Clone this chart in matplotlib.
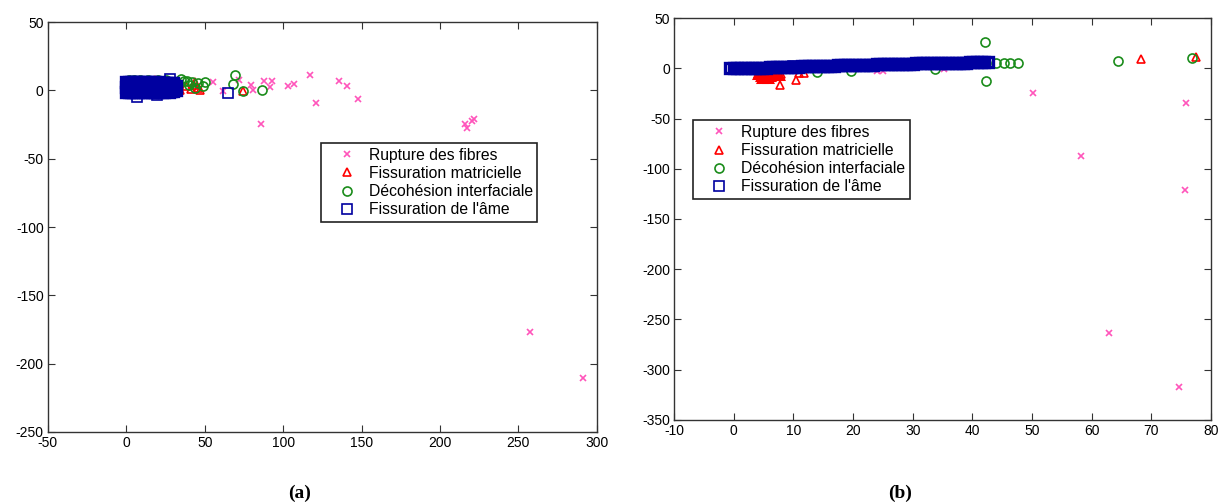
import matplotlib
matplotlib.use("Agg")
import matplotlib.pyplot as plt

# Données (a)
rupture_a_x = [10, 30, 55.3, 61.7, 72, 79.7, 81, 88, 93, 91.8, 103.3, 107, 117, 121, 135.8, 140.8, 148, 85.7,
               215.8, 217.3, 220.5, 222, 257.7, 291]
rupture_a_y = [5, 3, 6.4, -0.5, 8, 4.2, 0.7, 6.8, 6.8, 2.4, 3.1, 4.6, 11.2, -9.3, 6.8, 3.1, -6.1, -24.4,
               -24.9, -27.3, -22.5, -20.7, -177.2, -210.8]
matrice_a_x = [3, 12, 18, 22, 34, 38, 41, 43, 46, 47, 44, 74.4]
matrice_a_y = [7, 7, 7.5, 7, 0, 3, 1, 4, 2, 0, 6, -0.5]
decohesion_a_x = [2, 5, 9, 14, 20, 25, 35, 37, 38.7, 40, 42, 44, 46, 50.4, 49, 69, 68, 74.4, 86.5]
decohesion_a_y = [7.5, 8, 8, 7.5, 7.8, 7.5, 8.6, 7, 6.8, 4, 6, 2, 5.6, 6.4, 3.1, 11.2, 4.9, -0.5, 0.2]
# amas dense de l'âme (a)
amas_a_x = [0, 1.5, 3, 4.5, 6, 7.5, 9, 10.5, 12, 13.5, 15, 16.5, 18, 19.5, 21, 22.5, 24, 25.5, 27, 28.5, 30, 31.5,
            0, 1.5, 3, 4.5, 6, 7.5, 9, 10.5, 12, 13.5, 15, 16.5, 18, 19.5, 21, 22.5, 24, 25.5, 27, 28.5, 30, 31.5,
            0, 1.5, 3, 4.5, 6, 7.5, 9, 10.5, 12, 13.5, 15, 16.5, 18, 19.5, 21, 22.5, 24, 25.5, 27, 28.5, 30]
amas_a_y = [-1, -1, -1, -1, -1, -1, -0.5, -1, -1, -1, -0.5, -1, -1, -1, -0.5, -1, -1, -0.5, -1, -0.5, -0.5, 0,
            2.5, 2.5, 2.5, 2.5, 2.5, 2.5, 2.5, 2.5, 2.5, 2.5, 2.5, 2.5, 2.5, 2.5, 2.5, 2.5, 2.5, 3, 2.5, 3, 3, 3,
            6, 6.2, 6, 6, 6.2, 6, 6, 5.8, 6, 6, 5.8, 6, 6, 5.8, 6, 5.8, 5.5, 5.8, 5.5, 5.5, 5.5]
ame_a_x = [6.8, 19.6, 28, 64.6]
ame_a_y = [-4.6, -3.4, 8.6, -1.7]

# Données (b)
rupture_b_x = [24, 25, 35.2, 50.1, 75.8, 58.3, 75.6, 63.0, 74.7]
rupture_b_y = [-2.7, -2.7, -0.3, -24.9, -34.8, -87.3, -121, -264, -317.7]
amas_rouge_b_x = [4, 4.5, 5, 5.5, 6, 6.5, 7, 5, 6, 4.8, 5.8, 7.5, 4.2, 6.8]
amas_rouge_b_y = [-6, -8, -9, -9, -8, -7, -6, -6, -6, -10, -10, -7, -4, -4]
matrice_b_x = [7.8, 10.4, 7.9, 10.9, 11.7, 68.3, 77.5]
matrice_b_y = [-17, -11.7, -6, -4.3, -4.3, 9.7, 11.6]
decohesion_b_x = [14, 19.6, 33.8, 42.1, 42.3, 44, 45.3, 46.3, 47.6, 64.5, 76.9]
decohesion_b_y = [-3.7, -2.7, -0.3, 26.6, -12.6, 5, 5, 5, 5, 7.3, 10]
amas_b_x = [-0.6, 0.0, 0.6, 1.2, 1.8, 2.4, 3.0, 3.6, 4.2, 4.8, 5.4, 6.0, 6.6, 7.2, 7.8, 8.4, 9.0, 9.6,
            10.2, 10.8, 11.4, 12.0, 12.6, 13.2, 13.8, 14.4, 15.0, 15.6, 16.2, 16.8, 17.4, 18.0, 18.6,
            19.2, 19.8, 20.4, 21.0, 21.6, 22.2, 22.8, 23.4, 24.0, 24.6, 25.2, 25.8, 26.4, 27.0, 27.6,
            28.2, 28.8, 29.4, 30.0, 30.6, 31.2, 31.8, 32.4, 33.0, 33.6, 34.2, 34.8, 35.4, 36.0, 36.6,
            37.2, 37.8, 38.4, 39.0, 39.6, 40.2, 40.8, 41.4, 42.0, 42.6]
amas_b_y = [0.3, 0.3, 0.3, 0.3, 0.3, 0.5, 0.5, 0.3, 0.5, 0.5, 0.5, 1.5, 1.5, 1.5, 1.5, 1.5, 1.5, 1.8,
            1.8, 1.8, 2, 2, 2, 2, 2.2, 2.2, 2.2, 2.5, 2.5, 2.5, 3, 3, 3, 3, 3, 3.2, 3.2, 3.2, 3.5, 3.5,
            3.5, 4, 4, 4, 4, 4.2, 4.2, 4.2, 4.5, 4.5, 4.5, 4.5, 5, 5, 5, 5, 5, 5.2, 5.2, 5.2, 5.5, 5.5,
            5.5, 5.5, 5.8, 5.8, 5.8, 6, 6, 6, 6, 6, 6]
ame_b_x = [10, 20, 30]
ame_b_y = [2, 3.5, 4.5]

labels = ["Rupture des fibres", "Fissuration matricielle",
          "Décohésion interfaciale", "Fissuration de l'âme"]

plt.rcParams['font.family'] = ['Liberation Sans', 'DejaVu Sans']
plt.rcParams['axes.unicode_minus'] = False

ROSE = '#ff55bb'
ROUGE = '#ff0000'
VERT = '#1a8c1a'
BLEU = '#0000a0'


def tracer(ax, rx, ry, rmx, rmy, mx, my, dx, dy, abx, aby, bx, by):
    h1, = ax.plot(rx, ry, 'x', color=ROSE, ms=5, mew=1.2)
    ax.plot(rmx, rmy, '^', color=ROUGE, mfc='none', ms=6, mew=2.2)
    h2, = ax.plot(mx, my, '^', color=ROUGE, mfc='none', ms=6, mew=1.2)
    h3, = ax.plot(dx, dy, 'o', color=VERT, mfc='none', ms=6.5, mew=1.2)
    ax.plot(abx, aby, 's', color=BLEU, mfc='none', ms=6.5, mew=2.4)
    h4, = ax.plot(bx, by, 's', color=BLEU, mfc='none', ms=6.5, mew=1.2)
    ax.tick_params(direction='in', length=5, top=True, right=True, labelsize=10,
                   color='#333333', pad=3)
    for s in ax.spines.values():
        s.set_color('#333333')
        s.set_linewidth(1.0)
    return [h1, h2, h3, h4]


def legende(ax, handles, x0, y0):
    leg = ax.legend(handles, labels, loc='upper left', bbox_to_anchor=(x0, y0), borderaxespad=0,
                    fancybox=False, edgecolor='#222222', fontsize=11.3, labelspacing=0.2,
                    handletextpad=0.05, handlelength=2.7, borderpad=0.3, framealpha=1)
    leg.get_frame().set_linewidth(1.2)


fig = plt.figure(figsize=(12.28, 5.04), dpi=100)

# (a)
ax1 = fig.add_axes([0.039, 0.143, 0.447, 0.813])
hs = tracer(ax1, rupture_a_x, rupture_a_y, [], [], matrice_a_x, matrice_a_y,
            decohesion_a_x, decohesion_a_y, amas_a_x, amas_a_y, ame_a_x, ame_a_y)
ax1.set_xlim(-50, 300)
ax1.set_ylim(-250, 50)
ax1.set_xticks(range(-50, 301, 50))
ax1.set_yticks(range(-250, 51, 50))
legende(ax1, hs, 0.497, 0.705)

# (b)
ax2 = fig.add_axes([0.549, 0.167, 0.437, 0.797])
hs = tracer(ax2, rupture_b_x, rupture_b_y, amas_rouge_b_x, amas_rouge_b_y, matrice_b_x, matrice_b_y,
            decohesion_b_x, decohesion_b_y, amas_b_x, amas_b_y, ame_b_x, ame_b_y)
ax2.set_xlim(-10, 80)
ax2.set_ylim(-350, 50)
ax2.set_xticks(range(-10, 81, 10))
ax2.set_yticks(range(-350, 51, 50))
legende(ax2, hs, 0.0354, 0.746)

fig.text(0.244, 0.022, "(a)", ha='center', va='center', fontsize=14,
         fontweight='bold', family='Liberation Serif')
fig.text(0.733, 0.022, "(b)", ha='center', va='center', fontsize=14,
         fontweight='bold', family='Liberation Serif')

fig.savefig("out.png", dpi=100)
